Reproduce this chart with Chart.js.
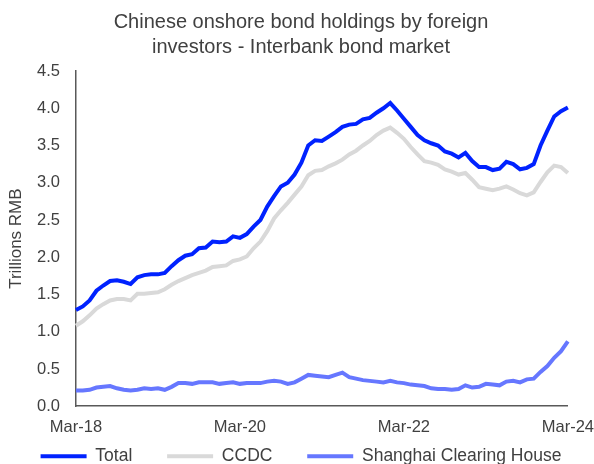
<!DOCTYPE html>
<html>
<head>
<meta charset="utf-8">
<script src="https://cdn.jsdelivr.net/npm/chart.js@4"></script>
<style>
html,body{margin:0;padding:0;background:#fff;}
#c{display:block;}
</style>
</head>
<body>
<canvas id="c" width="594" height="464"></canvas>
<script>
const startYear = 2018;
const monthNames = ['Jan','Feb','Mar','Apr','May','Jun','Jul','Aug','Sep','Oct','Nov','Dec'];
const categories = [];
for (let i = 0; i < 73; i++) {
  const m = (2 + i) % 12;
  const y = startYear + Math.floor((2 + i) / 12);
  categories.push(monthNames[m] + '-' + String(y).slice(2));
}
const tickLabels = ['Mar-18','Mar-20','Mar-22','Mar-24'];
const seriesNames = ['Total','CCDC','Shanghai Clearing House'];

const totalValues = [1.29,1.34,1.42,1.55,1.62,1.68,1.69,1.67,1.64,1.73,1.76,1.77,1.77,1.79,1.88,1.96,2.02,2.04,2.12,2.13,2.21,2.20,2.21,2.28,2.26,2.31,2.41,2.50,2.68,2.82,2.95,3.00,3.11,3.27,3.50,3.57,3.56,3.62,3.68,3.75,3.78,3.79,3.85,3.87,3.94,4.00,4.07,3.97,3.86,3.75,3.64,3.57,3.53,3.50,3.42,3.39,3.34,3.40,3.29,3.21,3.21,3.17,3.19,3.28,3.25,3.18,3.20,3.25,3.50,3.70,3.89,3.96,4.01];
const ccdcValues = [1.08,1.14,1.22,1.31,1.37,1.42,1.44,1.44,1.42,1.51,1.51,1.52,1.53,1.57,1.63,1.68,1.72,1.76,1.79,1.82,1.87,1.88,1.89,1.95,1.97,2.01,2.12,2.21,2.35,2.52,2.63,2.73,2.84,2.95,3.10,3.16,3.17,3.22,3.26,3.31,3.38,3.43,3.50,3.56,3.64,3.70,3.74,3.67,3.59,3.48,3.38,3.29,3.27,3.24,3.18,3.15,3.11,3.13,3.04,2.94,2.92,2.90,2.92,2.95,2.91,2.86,2.83,2.87,3.01,3.14,3.23,3.21,3.13];
const shanghaiValues = [0.21,0.21,0.22,0.25,0.26,0.27,0.24,0.22,0.21,0.22,0.24,0.23,0.24,0.22,0.26,0.31,0.31,0.30,0.32,0.32,0.32,0.30,0.31,0.32,0.30,0.31,0.31,0.31,0.33,0.34,0.33,0.30,0.32,0.37,0.42,0.41,0.40,0.39,0.42,0.45,0.39,0.37,0.35,0.34,0.33,0.32,0.34,0.32,0.31,0.29,0.28,0.27,0.24,0.23,0.23,0.22,0.23,0.28,0.25,0.26,0.30,0.29,0.28,0.33,0.34,0.32,0.36,0.37,0.46,0.54,0.65,0.74,0.87];

const textColor = '#404040';
const fontFamily = '"Liberation Sans", Arial, sans-serif';
const lineW = 4;
const legendGaps = [5, 5, 0];

new Chart(document.getElementById('c'), {
  type: 'line',
  data: {
    labels: categories,
    datasets: [
      {label: seriesNames[0], data: totalValues, borderColor: '#0022FF', backgroundColor: '#0022FF', borderWidth: lineW, pointRadius: 0, tension: 0},
      {label: seriesNames[1], data: ccdcValues, borderColor: '#D9D9D9', backgroundColor: '#D9D9D9', borderWidth: lineW, pointRadius: 0, tension: 0},
      {label: seriesNames[2], data: shanghaiValues, borderColor: '#6677FF', backgroundColor: '#6677FF', borderWidth: lineW, pointRadius: 0, tension: 0}
    ]
  },
  options: {
    responsive: false,
    animation: false,
    layout: {padding: {left: 8, right: 0, top: 2, bottom: -11}},
    plugins: {
      title: {
        display: true,
        text: ['Chinese onshore bond holdings by foreign', 'investors - Interbank bond market'],
        color: textColor,
        font: {family: fontFamily, size: 20, weight: 'normal', lineHeight: 1.25},
        padding: {top: 8, bottom: 11}
      },
      legend: {
        position: 'bottom',
        labels: {
          color: textColor,
          font: {family: fontFamily, size: 17.5},
          boxWidth: 46,
          boxHeight: 4,
          padding: 10.5,
          generateLabels: function(chart) {
            const items = Chart.defaults.plugins.legend.labels.generateLabels(chart);
            items.forEach((it, i) => {
              it.lineWidth = 0;
              it.text = it.text + '\u00A0'.repeat(legendGaps[i]);
            });
            return items;
          }
        }
      },
      tooltip: {enabled: false}
    },
    scales: {
      x: {
        offset: false,
        grid: {display: true, drawOnChartArea: false, drawTicks: true, tickLength: 11, color: 'rgba(0,0,0,0)'},
        border: {display: true, color: '#595959', width: 1.5},
        ticks: {
          color: textColor,
          font: {family: fontFamily, size: 16.5},
          autoSkip: false,
          maxRotation: 0,
          padding: 0,
          callback: function(v, i) {
            const lab = categories[i];
            return tickLabels.includes(lab) ? lab : '';
          }
        }
      },
      y: {
        min: 0, max: 4.5,
        grid: {display: false, drawTicks: false},
        border: {display: true, color: '#595959', width: 1.5},
        title: {display: true, text: 'Trillions RMB', color: textColor, font: {family: fontFamily, size: 17, lineHeight: 1}, padding: {top: 0, bottom: -4}},
        ticks: {
          stepSize: 0.5,
          color: textColor,
          font: {family: fontFamily, size: 16.5},
          padding: 16,
          callback: v => Number(v).toFixed(1)
        }
      }
    }
  }
});
</script>
</body>
</html>
